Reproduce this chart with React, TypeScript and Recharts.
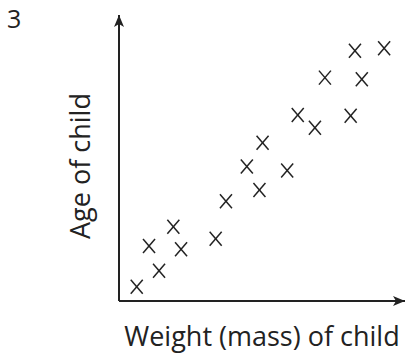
import React from 'react'
import { ScatterChart, Scatter, XAxis, YAxis, Label } from 'recharts'

// weight (x) and age (y) of each child, in arbitrary units 0-100
const weights = [6.2, 10.5, 14.0, 19.0, 21.7, 33.8, 37.4, 44.7, 49.1, 50.2, 58.8, 62.5, 68.5, 72.0, 81.0, 82.5, 84.9, 92.7]
const ages = [5.0, 19.2, 10.6, 26.0, 18.1, 21.8, 34.9, 47.0, 38.8, 55.3, 45.6, 65.0, 60.6, 78.1, 64.8, 87.5, 77.5, 88.4]

const questionNumber = '3'
const xTitle = 'Weight (mass) of child'
const yTitle = 'Age of child'

const font = '"Open Sans", "Noto Sans", sans-serif'
const ink = '#222'

const data = weights.map((w, i) => ({ weight: w, age: ages[i] }))

function Cross(props: any) {
  const { cx, cy } = props
  return (
    <g stroke={ink} strokeWidth={1.5} strokeLinecap="butt">
      <line x1={cx - 6} y1={cy - 7} x2={cx + 6} y2={cy + 7} />
      <line x1={cx + 6} y1={cy - 7} x2={cx - 6} y2={cy + 7} />
    </g>
  )
}

export default function App() {
  return (
    <div style={{ position: 'absolute', left: 0, top: 0, width: 407, height: 355, background: '#fff', fontFamily: font }}>
      <svg width={0} height={0} style={{ position: 'absolute' }}>
        <defs>
          <marker id="arrow" viewBox="0 0 12 10" refX={12} refY={5} markerWidth={12} markerHeight={10}
            markerUnits="userSpaceOnUse" orient="auto-start-reverse">
            <path d="M0,0 L12,5 L0,10 L3,5 Z" fill={ink} />
          </marker>
        </defs>
      </svg>
      <div style={{ position: 'absolute', left: 7, top: 3, fontSize: 25, color: ink, lineHeight: '30px' }}>
        {questionNumber}
      </div>
      <ScatterChart width={407} height={355} margin={{ top: 15, right: 2, bottom: 0, left: 39 }}>
        <XAxis type="number" dataKey="weight" domain={[0, 100]} tick={false} tickLine={false} height={54}
          axisLine={{ stroke: ink, strokeWidth: 2, markerEnd: 'url(#arrow)' }}>
          <Label content={(p: any) => {
            const vb = p.viewBox
            return (
              <text x={vb.x + vb.width / 2} y={335} textAnchor="middle" dominantBaseline="central"
                fontSize={27} fontFamily={font} fill={ink}>{xTitle}</text>
            )
          }} />
        </XAxis>
        <YAxis type="number" dataKey="age" domain={[0, 100]} tick={false} tickLine={false} width={80}
          axisLine={{ stroke: ink, strokeWidth: 2, markerStart: 'url(#arrow)' }}>
          <Label content={() => (
            <text x={79} y={166} transform="rotate(-90 79 166)" textAnchor="middle" dominantBaseline="central"
              fontSize={27} fontFamily={font} fill={ink}>{yTitle}</text>
          )} />
        </YAxis>
        <Scatter data={data} shape={Cross} isAnimationActive={false} />
      </ScatterChart>
    </div>
  )
}
